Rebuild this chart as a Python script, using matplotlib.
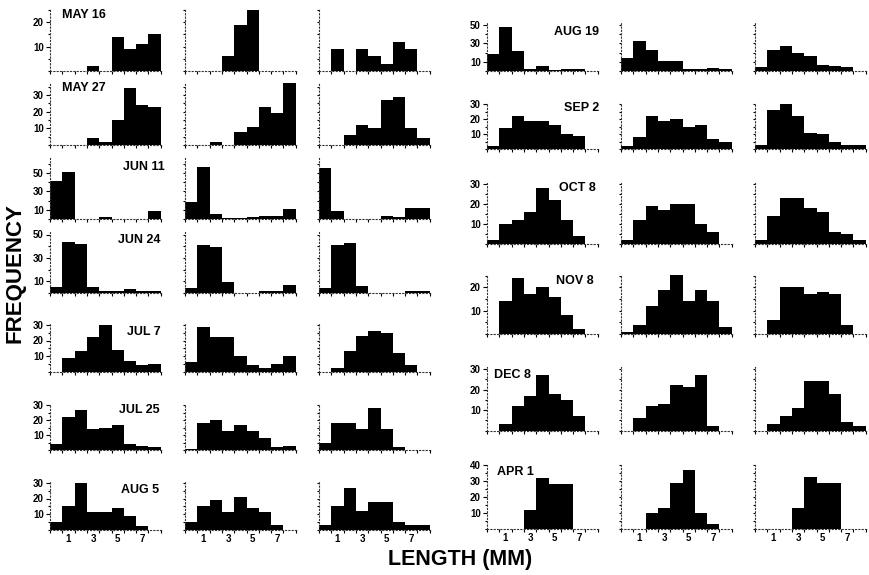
import matplotlib.pyplot as plt
import numpy as np
from matplotlib.ticker import FixedLocator, MultipleLocator

plt.rcParams['font.family'] = ['Liberation Sans', 'DejaVu Sans']

# figure size in pixels (dpi 100)
W, H = 869, 575

# length classes (mm), one bar per class
BINS = np.arange(9)
XTICK_LABELS = [1, 3, 5, 7]

# counts per length class, three sampling sites per date
may16 = [[0, 0, 0, 2, 0, 14, 9, 11, 15], [0, 0, 0, 6, 19, 25, 0, 0, 0], [0, 9, 0, 9, 6, 3, 12, 9, 0]]
may27 = [[0, 0, 0, 4, 2, 15, 34, 24, 23], [0, 0, 2, 0, 8, 11, 23, 19, 37], [0, 0, 6, 12, 10, 27, 29, 10, 4]]
jun11 = [[41, 51, 0, 0, 2, 0, 0, 0, 9], [19, 56, 5, 1, 1, 2, 3, 3, 11], [55, 9, 0, 0, 0, 3, 2, 12, 12]]
jun24 = [[5, 44, 42, 5, 2, 2, 3, 2, 2], [4, 41, 39, 9, 0, 0, 2, 2, 7], [4, 41, 43, 6, 0, 0, 0, 2, 2]]
jul7 = [[0, 9, 13, 22, 30, 14, 7, 4, 5], [6, 29, 22, 22, 10, 4, 2, 5, 10], [0, 2, 13, 23, 26, 25, 12, 4, 0]]
jul25 = [[4, 22, 27, 14, 15, 17, 4, 3, 2], [1, 18, 20, 13, 17, 13, 8, 2, 3], [5, 18, 18, 14, 28, 14, 2, 0, 0]]
aug5 = [[5, 15, 30, 11, 11, 14, 9, 2, 0], [5, 15, 19, 11, 21, 14, 11, 3, 0], [3, 15, 27, 12, 18, 18, 5, 3, 3]]
aug19 = [[19, 48, 22, 2, 5, 1, 2, 2, 0], [14, 33, 23, 11, 11, 2, 2, 3, 2], [4, 23, 27, 20, 16, 7, 5, 4, 0]]
sep2 = [[2, 14, 22, 19, 19, 16, 10, 9, 0], [2, 8, 22, 19, 20, 15, 16, 7, 5], [3, 26, 30, 22, 11, 10, 5, 3, 3]]
oct8 = [[2, 10, 12, 16, 28, 22, 12, 4, 0], [2, 12, 19, 17, 20, 20, 10, 6, 0], [2, 14, 23, 23, 18, 16, 6, 5, 2]]
nov8 = [[0, 14, 24, 17, 20, 16, 8, 2, 0], [1, 4, 12, 19, 26, 14, 19, 14, 3], [0, 6, 20, 20, 17, 18, 17, 4, 0]]
dec8 = [[0, 3, 12, 17, 27, 18, 15, 7, 0], [0, 6, 12, 13, 22, 21, 27, 2, 0], [0, 3, 7, 11, 24, 24, 18, 4, 2]]
apr1 = [[0, 0, 0, 12, 32, 28, 28, 0, 0], [0, 0, 10, 13, 29, 37, 10, 3, 0], [0, 0, 0, 13, 33, 29, 29, 0, 0]]

LEFT_DATES = ["MAY 16", "MAY 27", "JUN 11", "JUN 24", "JUL 7", "JUL 25", "AUG 5"]
LEFT_DATA = [may16, may27, jun11, jun24, jul7, jul25, aug5]
LEFT_YTICKS = [[10, 20], [10, 20, 30], [10, 30, 50], [10, 30, 50], [10, 20, 30], [10, 20, 30], [10, 20, 30]]

RIGHT_DATES = ["AUG 19", "SEP 2", "OCT 8", "NOV 8", "DEC 8", "APR 1"]
RIGHT_DATA = [aug19, sep2, oct8, nov8, dec8, apr1]
RIGHT_YTICKS = [[10, 30, 50], [10, 20, 30], [10, 20, 30], [10, 20], [10, 20, 30], [10, 20, 30, 40]]

# layout (pixels): column left edges, row baselines, pixels per count, y limit
LEFT_COLS = [50, 185, 319]
RIGHT_COLS = [487, 621, 755]
PANEL_W = 112
LEFT_ROWS = [(71, 2.44, 25.5), (145, 1.67, 37), (219, 0.92, 66), (293, 1.17, 52),
             (371.5, 1.55, 31), (450, 1.5, 31), (529.5, 1.55, 31)]
RIGHT_ROWS = [(71, 0.92, 52), (149, 1.5, 31), (244, 2.0, 30.5), (334, 2.33, 25.5),
              (430.5, 2.05, 31), (529, 1.59, 40.5)]
# date label: (x px, y px, horizontal alignment)
LEFT_LABEL_POS = [(62, 15, "left"), (62, 88, "left"), (165, 167, "right"), (161, 240, "right"),
                  (161, 332, "right"), (160, 410, "right"), (159, 490, "right")]
RIGHT_LABEL_POS = [(599, 32, "right"), (599, 108, "right"), (596, 188, "right"), (594, 281, "right"),
                   (494, 375, "left"), (497, 472, "left")]

DOTS = (0, (1, 2))


def make_panel(fig, left, base, ppu, ymax, counts, first_col, bottom_row, yticks):
    ax = fig.add_axes([left / W, 1 - base / H, PANEL_W / W, ymax * ppu / H])
    ax.bar(BINS, counts, width=1.0, color="black", linewidth=0)
    ax.set_xlim(-0.5, 8.6)
    ax.set_ylim(0, ymax)
    for side in ("top", "right"):
        ax.spines[side].set_visible(False)
    for side in ("left", "bottom"):
        ax.spines[side].set_linestyle(DOTS)
        ax.spines[side].set_linewidth(0.8)
        ax.spines[side].set_color("#333333")

    ax.xaxis.set_minor_locator(FixedLocator(np.arange(-0.5, 9, 1.0)))
    ax.tick_params(axis="x", which="minor", length=2.5, width=0.8, direction="out")
    if bottom_row:
        ax.set_xticks(XTICK_LABELS)
        ax.set_xticklabels([str(v) for v in XTICK_LABELS], fontsize=7, fontweight="bold")
        ax.tick_params(axis="x", which="major", length=0, pad=3)
    else:
        ax.set_xticks([])

    step = 10 if max(yticks) >= 50 else 5
    ax.yaxis.set_minor_locator(MultipleLocator(step))
    ax.tick_params(axis="y", which="minor", length=1.5, width=0.8)
    if first_col:
        ax.set_yticks(yticks)
        ax.set_yticklabels([str(v) for v in yticks], fontsize=7, fontweight="bold")
        ax.tick_params(axis="y", which="major", length=3, width=0.8, pad=1.5)
    else:
        ax.set_yticks([])
    return ax


fig = plt.figure(figsize=(W / 100, H / 100), dpi=100)

for cols, rows, data, yticks, dates, label_pos in (
        (LEFT_COLS, LEFT_ROWS, LEFT_DATA, LEFT_YTICKS, LEFT_DATES, LEFT_LABEL_POS),
        (RIGHT_COLS, RIGHT_ROWS, RIGHT_DATA, RIGHT_YTICKS, RIGHT_DATES, RIGHT_LABEL_POS)):
    for r, (base, ppu, ymax) in enumerate(rows):
        for c, left in enumerate(cols):
            make_panel(fig, left, base, ppu, ymax, data[r][c], c == 0, r == len(rows) - 1, yticks[r])
        lx, ly, ha = label_pos[r]
        fig.text(lx / W, 1 - ly / H, dates[r], ha=ha, va="center", fontsize=9, fontweight="bold")

fig.text(15 / W, 1 - 273 / H, "FREQUENCY", rotation=90, ha="center", va="center",
         fontsize=16, fontweight="bold")
fig.text(460 / W, 1 - 559 / H, "LENGTH (MM)", ha="center", va="center",
         fontsize=15.5, fontweight="bold")

fig.savefig("out.png", dpi=100)
